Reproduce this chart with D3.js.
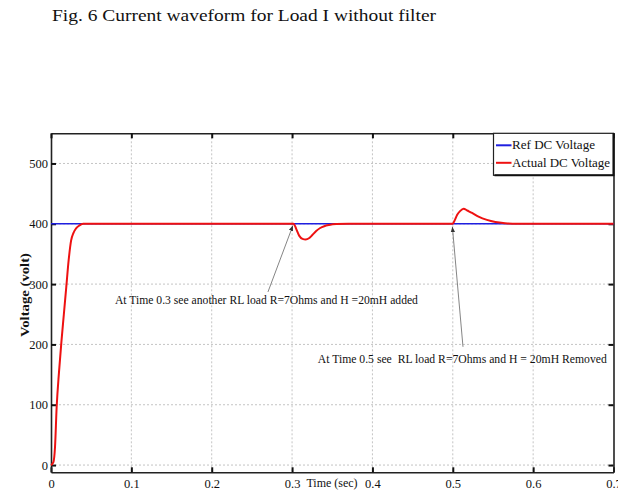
<!DOCTYPE html>
<html lang="en">
<head>
    <meta charset="UTF-8">
    <title>Fig. 6 Current waveform</title>
    <style>
        body { margin: 0; background: #fff; }
        text { font-family: "Liberation Serif", "DejaVu Serif", serif; fill: #111; white-space: pre; }
    </style>
</head>
<body>
    <script src="https://d3js.org/d3.v7.min.js"></script>
    <script>

        // data
        const refTime = [0, 0.7];
        const refVolt = [400, 400];

        const actTime = [0, 0.003, 0.005, 0.007, 0.010, 0.013, 0.016, 0.019, 0.022, 0.025, 0.028, 0.031, 0.035, 0.04,
            0.1, 0.2, 0.302, 0.305, 0.309, 0.313, 0.317, 0.321, 0.325, 0.33, 0.335, 0.34, 0.346, 0.355, 0.37,
            0.4, 0.5, 0.5025, 0.5055, 0.509, 0.5135, 0.518, 0.524, 0.532, 0.5425, 0.553, 0.565, 0.58, 0.7];
        const actVolt = [0, 5, 30, 95, 155, 205, 250, 295, 340, 372, 385, 392, 397, 400,
            400, 400, 400, 392, 380, 375, 374, 376, 381, 388, 393, 396, 398, 399.5, 400,
            400, 400, 406, 415, 421, 425, 422, 418, 412, 406.5, 403, 401, 400, 400];

        const xTicks = [0, 0.1, 0.2, 0.3, 0.4, 0.5, 0.6, 0.7];
        const yTicks = [0, 100, 200, 300, 400, 500];

        const seriesNames = ['Ref DC Voltage', 'Actual DC Voltage'];
        const seriesColors = ['#1f1fe0', '#ee1111'];

        const notes = [
            { text: 'At Time 0.3 see another RL load R=7Ohms and H =20mH added', tx: 0.0796, ty: 267, tailT: 0.270, tailV: 287, headT: 0.301, headV: 397, len: 303 },
            { text: 'At Time 0.5 see  RL load R=7Ohms and H = 20mH Removed', tx: 0.332, ty: 169, tailT: 0.5127, tailV: 196, headT: 0.4995, headV: 395, len: 289 }
        ];

        const W = 618, H = 492;
        const mLeft = 51, mRight = 613.5, mTop = 133.3, mBottom = 472.3;

        const svg = d3.select('body').append('svg')
            .attr('width', W)
            .attr('height', H);

        svg.append('text')
            .attr('x', 52)
            .attr('y', 21)
            .attr('textLength', 384)
            .attr('lengthAdjust', 'spacingAndGlyphs')
            .style('font-size', '17px')
            .text('Fig. 6 Current waveform for Load I without filter');

        const x = d3.scaleLinear().domain([0, 0.7]).range([mLeft, mRight]);
        const y = d3.scaleLinear().domain([-12, 550]).range([mBottom, mTop]);

        // grid
        const grid = svg.append('g').attr('stroke', '#c4c4c4').attr('stroke-dasharray', '2,2');
        grid.selectAll('.gx').data(xTicks.slice(1, -1)).enter().append('line')
            .attr('x1', d => x(d)).attr('x2', d => x(d))
            .attr('y1', mTop).attr('y2', mBottom);
        grid.selectAll('.gy').data(yTicks).enter().append('line')
            .attr('x1', mLeft).attr('x2', mRight)
            .attr('y1', d => y(d)).attr('y2', d => y(d));

        // axes, ticks inside on all four sides
        svg.append('g')
            .attr('transform', `translate(0,${mBottom})`)
            .call(d3.axisBottom(x).tickValues(xTicks).tickSizeInner(-5).tickSizeOuter(0).tickPadding(7)
                .tickFormat(d => d === 0 ? '0' : d3.format('.1f')(d)));
        svg.append('g')
            .attr('transform', `translate(${mLeft},0)`)
            .call(d3.axisLeft(y).tickValues(yTicks).tickSizeInner(-5).tickSizeOuter(0).tickPadding(3));
        svg.append('g')
            .attr('transform', `translate(0,${mTop})`)
            .call(d3.axisTop(x).tickValues(xTicks).tickSizeInner(-5).tickSizeOuter(0).tickFormat(''));
        svg.append('g')
            .attr('transform', `translate(${mRight},0)`)
            .call(d3.axisRight(y).tickValues(yTicks).tickSizeInner(-5).tickSizeOuter(0).tickFormat(''));

        svg.selectAll('.domain').attr('stroke', '#222').attr('stroke-width', 1.6);
        svg.selectAll('.tick line').attr('stroke', '#111').attr('stroke-width', 2);
        svg.selectAll('.tick text')
            .style('font-family', '"Liberation Serif", serif')
            .style('font-size', '12.5px')
            .attr('fill', '#222');

        // axis labels
        svg.append('text')
            .attr('x', 332).attr('y', 487)
            .attr('text-anchor', 'middle')
            .style('font-size', '12px')
            .text('Time (sec)');
        svg.append('text')
            .attr('transform', 'translate(29,295) rotate(-90)')
            .attr('text-anchor', 'middle')
            .attr('textLength', 84)
            .attr('lengthAdjust', 'spacingAndGlyphs')
            .style('font-size', '13px')
            .style('font-weight', 'bold')
            .text('Voltage (volt)');

        // lines
        const line = d3.line().x(d => x(d[0])).y(d => y(d[1])).curve(d3.curveMonotoneX);

        svg.append('path')
            .datum(d3.zip(refTime, refVolt))
            .attr('d', line)
            .attr('fill', 'none')
            .attr('stroke', seriesColors[0])
            .attr('stroke-width', 1.6);

        svg.append('path')
            .datum(d3.zip(actTime, actVolt))
            .attr('d', line)
            .attr('fill', 'none')
            .attr('stroke', seriesColors[1])
            .attr('stroke-width', 2);

        // annotations
        svg.append('defs').append('marker')
            .attr('id', 'head')
            .attr('viewBox', '0 0 10 10')
            .attr('refX', 10).attr('refY', 5)
            .attr('markerWidth', 6).attr('markerHeight', 6)
            .attr('orient', 'auto')
            .append('path').attr('d', 'M0,1 L10,5 L0,9 Z').attr('fill', '#333');

        notes.forEach(n => {
            svg.append('line')
                .attr('x1', x(n.tailT)).attr('y1', y(n.tailV))
                .attr('x2', x(n.headT)).attr('y2', y(n.headV))
                .attr('stroke', '#777')
                .attr('stroke-width', 0.9)
                .attr('marker-end', 'url(#head)');
            svg.append('text')
                .attr('x', x(n.tx)).attr('y', y(n.ty))
                .attr('textLength', n.len)
                .attr('lengthAdjust', 'spacingAndGlyphs')
                .style('font-size', '12px')
                .text(n.text);
        });

        // legend
        const lg = svg.append('g');
        lg.append('rect')
            .attr('x', 493.5).attr('y', mTop)
            .attr('width', mRight - 493.5).attr('height', 42)
            .attr('fill', '#fff')
            .attr('stroke', '#222')
            .attr('stroke-width', 1.2);
        lg.append('path')
            .attr('d', `M494.5,${mTop + 42}H${mRight}V${mTop}`)
            .attr('fill', 'none')
            .attr('stroke', '#111')
            .attr('stroke-width', 2);
        seriesNames.forEach((s, i) => {
            const yy = mTop + 12 + i * 17.5;
            lg.append('line')
                .attr('x1', 496).attr('x2', 511.5)
                .attr('y1', yy).attr('y2', yy)
                .attr('stroke', seriesColors[i])
                .attr('stroke-width', 2);
            lg.append('text')
                .attr('x', 512).attr('y', yy + 4)
                .attr('textLength', i === 0 ? 83 : 98)
                .attr('lengthAdjust', 'spacingAndGlyphs')
                .style('font-size', '12px')
                .text(s);
        });

    </script>
</body>
</html>
